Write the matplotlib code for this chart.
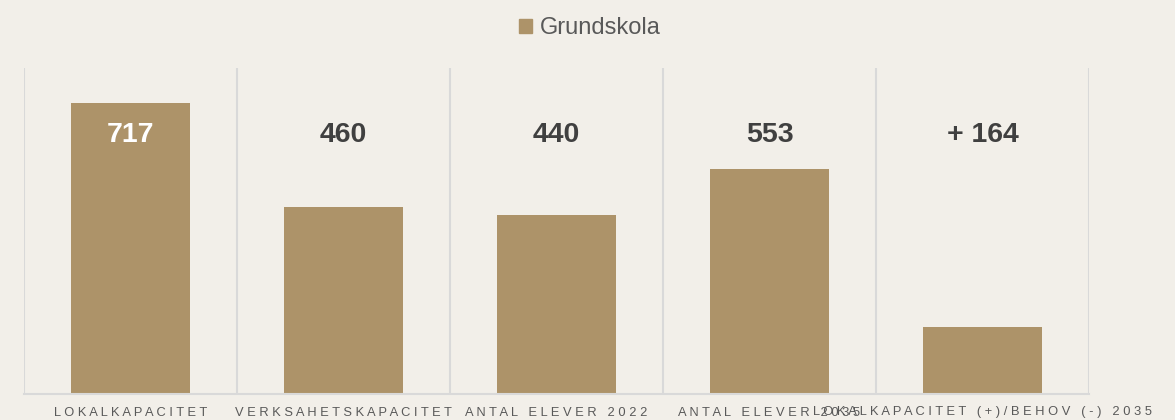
import matplotlib
matplotlib.use('Agg')
from matplotlib import pyplot as plt
from matplotlib.patches import Patch

plt.rcParams['font.family'] = ['Liberation Sans', 'DejaVu Sans']

categories = ['LOKALKAPACITET', 'VERKSAHETSKAPACITET', 'ANTAL ELEVER 2022',
              'ANTAL ELEVER 2035', 'LOKALKAPACITET (+)/BEHOV (-) 2035']
values = [717, 460, 440, 553, 164]
value_labels = ['717', '460', '440', '553', '+ 164']
series_name = 'Grundskola'

bg = '#f2efe9'
bar_col = '#ad9369'
grid_col = '#d9d9d9'

def spaced(s):
    return ' '.join(list(s))

fig = plt.figure(figsize=(11.75, 4.2), dpi=100, facecolor=bg)
ax = fig.add_axes([24/1175, 26/420, 1065/1175, 326/420])
ax.set_facecolor(bg)

x = range(len(categories))
ax.bar(x, values, width=0.56, color=bar_col, zorder=2)

ax.set_xlim(-0.5, len(categories) - 0.5)
ax.set_ylim(0, 803)

# category separators
for b in [i - 0.5 for i in range(len(categories) + 1)]:
    ax.vlines(b, 0, 803, color=grid_col, lw=1.5, zorder=1)

for i, (v, lab) in enumerate(zip(values, value_labels)):
    col = 'white' if v > 638 else '#404040'
    ax.text(i, 638, lab, ha='center', va='center', fontsize=20.5,
            fontweight='bold', color=col, zorder=3)

for s in ['top', 'right', 'left']:
    ax.spines[s].set_visible(False)
ax.spines['bottom'].set_color(grid_col)
ax.spines['bottom'].set_linewidth(1.5)
ax.set_yticks([])
ax.set_xticks(list(x))
ax.set_xticklabels([spaced(c) for c in categories], fontsize=9.3, color='#595959')
ax.tick_params(axis='x', length=0, pad=9)

fig.legend(handles=[Patch(color=bar_col, label=series_name)], loc='upper center',
           bbox_to_anchor=(0.502, 1.01), frameon=False, fontsize=17,
           handlelength=0.55, handleheight=0.55, handletextpad=0.3,
           labelcolor='#595959')

fig.savefig('out.png', dpi=100, facecolor=bg)
